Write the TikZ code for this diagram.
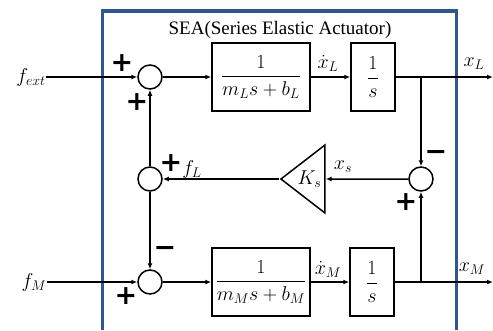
\RequirePackage{fix-cm}
\documentclass[tikz,border=0pt]{standalone}
\usepackage{amsmath}
\usepackage{fontspec}
\setmainfont{Liberation Serif}
\newfontfamily\signfont{DejaVu Sans}
\definecolor{seablue}{RGB}{47, 85, 151}
\usetikzlibrary{shapes, arrows.meta, positioning}

\tikzset{
  sumnode/.style={draw, circle, line width=1.5pt, minimum size=24pt, inner sep=0pt},
  blockbox/.style={draw, rectangle, line width=1.5pt, minimum height=68pt,
                   inner sep=0pt, font=\fontsize{20}{22}\selectfont},
  gainnode/.style={draw, isosceles triangle, shape border rotate=180,
                   isosceles triangle stretches, minimum width=68pt, minimum height=44pt,
                   inner sep=0pt, line width=1.5pt, font=\fontsize{20}{22}\selectfont},
  signlbl/.style={font=\signfont\bfseries\fontsize{27}{27}\selectfont, inner sep=0pt},
  varlbl/.style={font=\fontsize{20}{22}\selectfont, inner sep=0pt},
  wire/.style={line width=1.5pt, -{Latex[length=6pt, width=5pt]}},
}

\begin{document}
\begin{tikzpicture}[x=1pt, y=-1pt]
    \useasboundingbox (0,0) rectangle (493,330);
    % SEA frame
    \draw[seablue, line width=3.2pt] (102.5,330) -- (102.5,11) -- (456.5,11) -- (456.5,330);
    \node[font=\fontsize{19}{21}\selectfont, inner sep=0pt] (title) at (280,30) {SEA(Series Elastic Actuator)};

    % load side
    \node[varlbl] (fext) at (31,77) {$f_{ext}$};
    \node[sumnode] (sumL) at (150,77) {};
    \node[blockbox, minimum width=98pt] (plantL) at (261,77) {$\dfrac{1}{m_L s+b_L}$};
    \node[blockbox, minimum width=44pt] (intL) at (373,77) {$\dfrac{1}{s}$};
    \coordinate (brL) at (421,77);
    \coordinate (outL) at (493,77);

    % spring
    \node[sumnode] (sumS) at (421,179) {};
    \node[gainnode, anchor=apex] (gain) at (279,179) {$K_s$};
    \node[sumnode] (sumF) at (150,179) {};

    % motor side
    \node[varlbl] (fM) at (34,282) {$f_M$};
    \node[sumnode] (sumM) at (150,282) {};
    \node[blockbox, minimum width=98pt] (plantM) at (261,282) {$\dfrac{1}{m_M s+b_M}$};
    \node[blockbox, minimum width=44pt] (intM) at (372,282) {$\dfrac{1}{s}$};
    \coordinate (brM) at (421,282);
    \coordinate (outM) at (493,282);

    % signals
    \draw[wire] (fext) -- (sumL);
    \draw[wire] (sumL) -- (plantL);
    \draw[wire] (plantL) -- (intL);
    \draw[wire] (intL) -- (outL);
    \draw[wire] (brL) -- (sumS);
    \draw[wire] (sumS) -- (gain.east);
    \draw[wire] (gain.apex) -- (sumF);
    \draw[wire] (sumF) -- (sumL);
    \draw[wire] (sumF) -- (sumM);
    \draw[wire] (fM) -- (sumM);
    \draw[wire] (sumM) -- (plantM);
    \draw[wire] (plantM) -- (intM);
    \draw[wire] (intM) -- (outM);
    \draw[wire] (brM) -- (sumS);

    % labels
    \node[varlbl] (vL) at (328,63) {$\dot{x}_L$};
    \node[varlbl] (xL) at (474,64) {$x_L$};
    \node[varlbl] (xs) at (343,167) {$x_s$};
    \node[varlbl] (fL) at (192,169) {$f_L$};
    \node[varlbl] (vM) at (328,269) {$\dot{x}_M$};
    \node[varlbl] (xM) at (472,269) {$x_M$};

    % signs
    \node[signlbl] (pL1) at (122,63) {+};
    \node[signlbl] (pL2) at (137,102) {+};
    \node[signlbl] (pF) at (171,163) {+};
    \node[signlbl] (nM) at (165,251) {−};
    \node[signlbl] (pM) at (126,296) {+};
    \node[signlbl] (nS) at (436,155) {−};
    \node[signlbl] (pS) at (406,202) {+};
  \end{tikzpicture}
\end{document}
